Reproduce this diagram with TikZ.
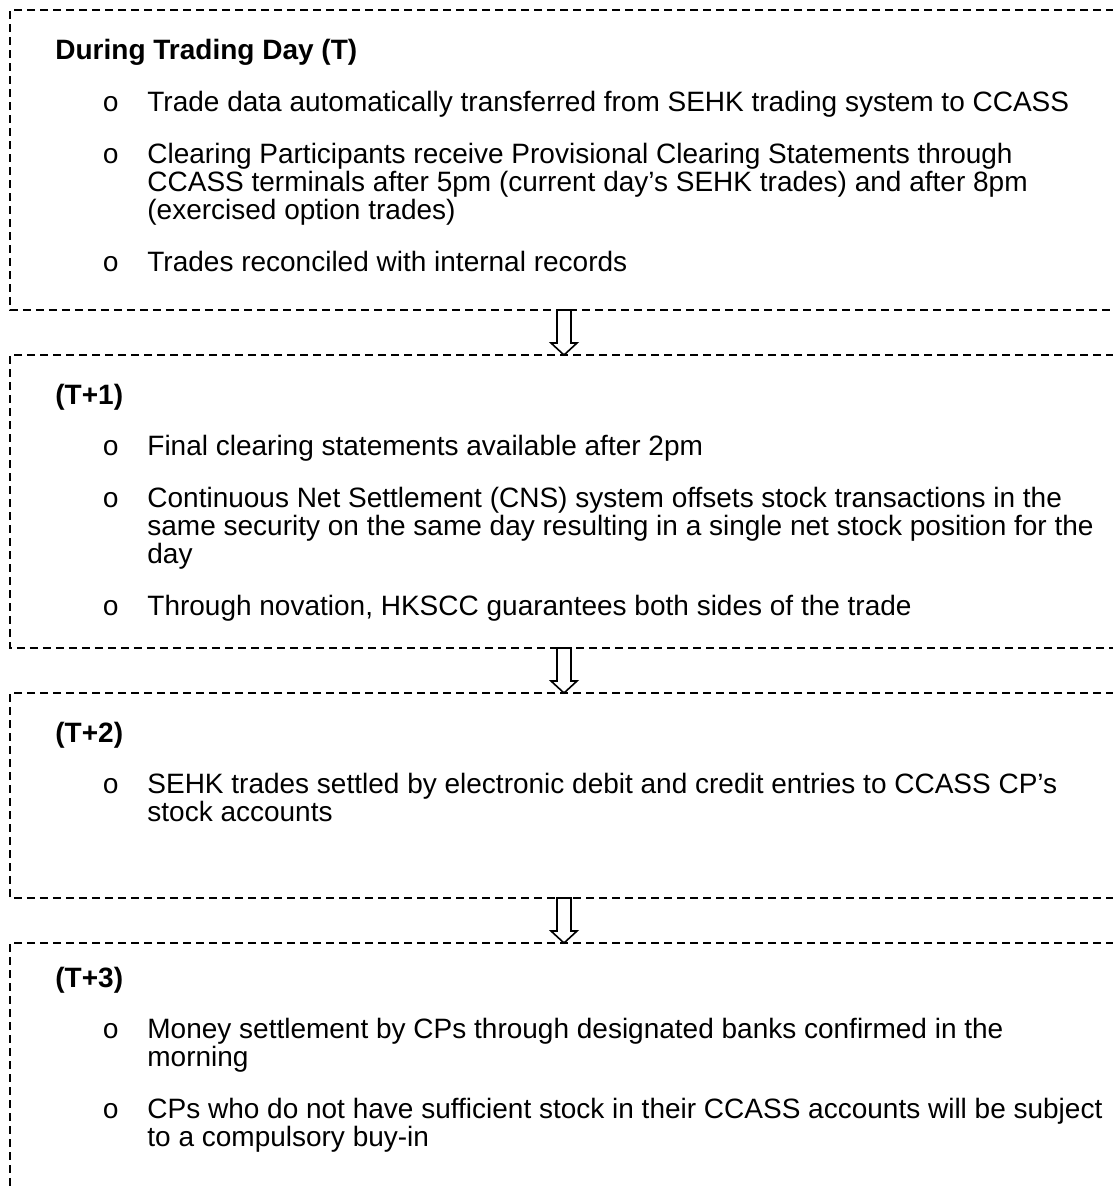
\documentclass[tikz,border=0pt]{standalone}
\usepackage{fontspec}
\setmainfont{Liberation Sans}
\newfontfamily\bulletfont{Liberation Mono}
\begin{document}
\begin{tikzpicture}[x=0.5pt,y=-0.5pt,
  txt/.style={anchor=base west,inner sep=0,font=\fontsize{14}{14.5}\selectfont},
  hd/.style={anchor=base west,inner sep=0,font=\fontsize{14}{14.5}\selectfont\bfseries},
  bul/.style={anchor=base west,inner sep=0,font=\bulletfont\fontsize{14}{14.5}\selectfont},
  dbox/.style={draw,dash pattern=on 4pt off 2.5pt,line width=0.8pt},
  blockarrow/.style={draw,fill=white,line width=0.8pt,line join=miter}]
\useasboundingbox (0,0) rectangle (1113,1189);
\clip (0,0) rectangle (1113,1189);

% boxes
\draw[dbox] (1140,10) -- (10,10) -- (10,310) -- (1140,310);
\draw[dbox] (1140,355) -- (10,355) -- (10,648) -- (1140,648);
\draw[dbox] (1140,693) -- (10,693) -- (10,898) -- (1140,898);
\draw[dbox] (1140,943) -- (10,943) -- (10,1220);

% box 1
\node[hd] (h1) at (55,59) {During Trading Day (T)};
\node[bul] (o11) at (102,111) {o};
\node[txt] (t11) at (147,111) {Trade data automatically transferred from SEHK trading system to CCASS};
\node[bul] (o12) at (102,163) {o};
\node[txt] (t12a) at (147,163) {Clearing Participants receive Provisional Clearing Statements through};
\node[txt] (t12b) at (147,191) {CCASS terminals after 5pm (current day’s SEHK trades) and after 8pm};
\node[txt] (t12c) at (147,219) {(exercised option trades)};
\node[bul] (o13) at (102,271) {o};
\node[txt] (t13) at (147,271) {Trades reconciled with internal records};

% box 2
\node[hd] (h2) at (55,404) {(T+1)};
\node[bul] (o21) at (102,455) {o};
\node[txt] (t21) at (147,455) {Final clearing statements available after 2pm};
\node[bul] (o22) at (102,507) {o};
\node[txt] (t22a) at (147,507) {Continuous Net Settlement (CNS) system offsets stock transactions in the};
\node[txt] (t22b) at (147,535) {same security on the same day resulting in a single net stock position for the};
\node[txt] (t22c) at (147,563) {day};
\node[bul] (o23) at (102,615) {o};
\node[txt] (t23) at (147,615) {Through novation, HKSCC guarantees both sides of the trade};

% box 3
\node[hd] (h3) at (55,742) {(T+2)};
\node[bul] (o31) at (102,793) {o};
\node[txt] (t31a) at (147,793) {SEHK trades settled by electronic debit and credit entries to CCASS CP’s};
\node[txt] (t31b) at (147,821) {stock accounts};

% box 4
\node[hd] (h4) at (55,987) {(T+3)};
\node[bul] (o41) at (102,1038) {o};
\node[txt] (t41a) at (147,1038) {Money settlement by CPs through designated banks confirmed in the};
\node[txt] (t41b) at (147,1066) {morning};
\node[bul] (o42) at (102,1118) {o};
\node[txt] (t42a) at (147,1118) {CPs who do not have sufficient stock in their CCASS accounts will be subject};
\node[txt] (t42b) at (147,1146) {to a compulsory buy-in};

% arrows
\coordinate (a1) at (564,310);
\coordinate (a2) at (564,648);
\coordinate (a3) at (564,898);
\foreach \c in {a1,a2,a3}{
  \draw[blockarrow,shift={(\c)}] (-7,0) -- (7,0) -- (7,33) -- (13,33) -- (0,45) -- (-13,33) -- (-7,33) -- cycle;
}
\end{tikzpicture}
\end{document}
